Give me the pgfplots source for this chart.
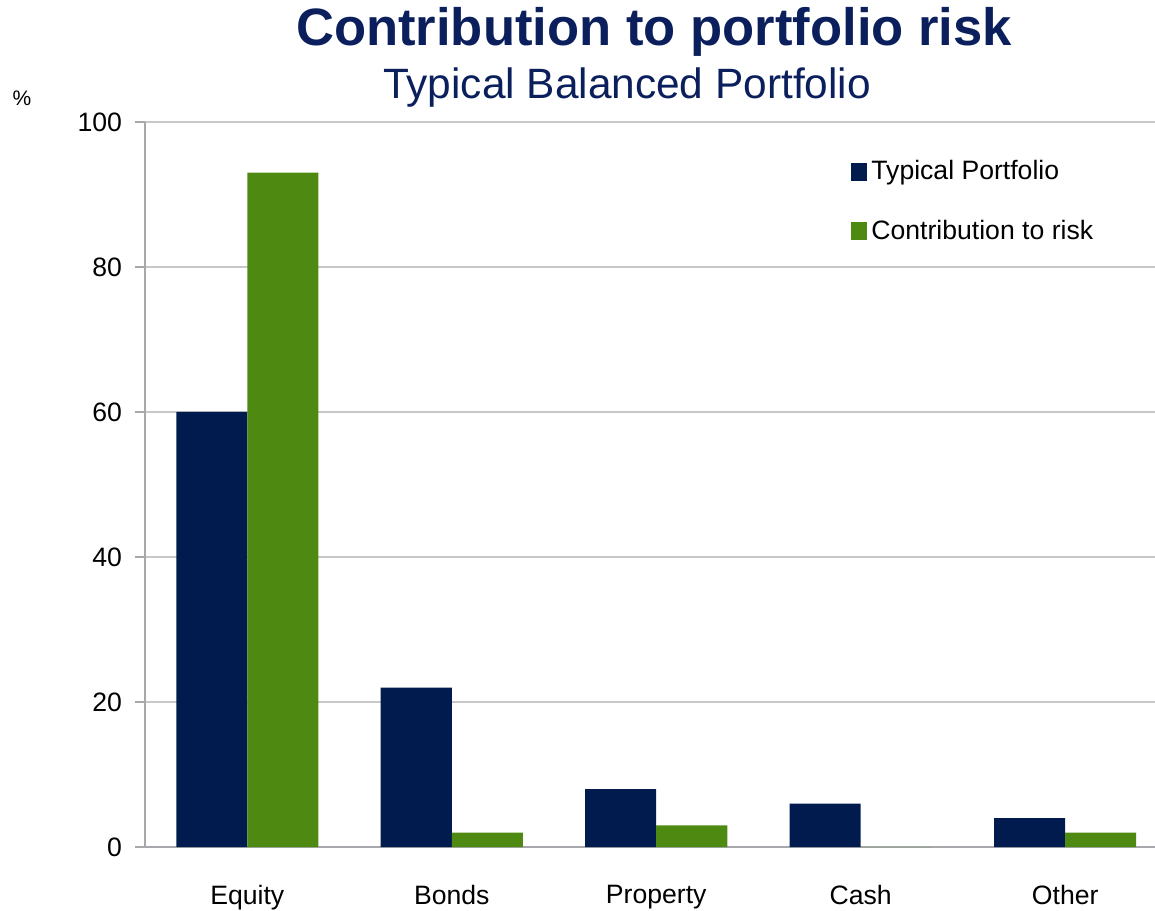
\documentclass[border=0pt]{standalone}
\usepackage{pgfplots}
\pgfplotsset{compat=1.18}
\usepackage{fontspec}
\setmainfont{Liberation Sans}
\definecolor{navy}{HTML}{021B4F}
\definecolor{grn}{HTML}{4E8A11}
\definecolor{ttl}{HTML}{0A1F5C}
\definecolor{axgray}{HTML}{A6A8AB}
\definecolor{gridgray}{HTML}{C8C8C8}
\begin{document}
\begin{tikzpicture}[x=0.5pt,y=0.5pt]
\useasboundingbox (0,0) rectangle (1155,910);
\begin{axis}[
  at={(72.5pt,31.5pt)}, anchor=south west,
  scale only axis, width=505pt, height=362.5pt,
  ybar=0pt, bar width=35.5pt,
  xmin=-0.5, xmax=4.439,
  ymin=0, ymax=100,
  ytick={0,20,...,100},
  xtick={0,1,2,3,4},
  xticklabels={Equity,Bonds,Property,Cash,Other},
  extra x ticks={0.5,1.5,2.5,3.5},
  extra x tick labels={},
  extra x tick style={major tick length=5pt, tick style={axgray, line width=0.8pt}, tick align=outside},
  major x tick style={draw=none},
  axis x line*=bottom, axis y line*=left,
  axis line style={-, axgray, line width=1pt},
  ytick style={axgray, line width=0.8pt},
  tick align=outside, major tick length=5pt,
  ymajorgrids, grid style={gridgray, line width=0.8pt},
  tick label style={font=\fontsize{13.3}{15}\selectfont, text=black},
  xticklabel style={yshift=-10.5pt},
  yticklabel style={xshift=-3pt},
  /pgf/number format/assume math mode=true,
  legend style={draw=none, fill=none, at={(0.699,0.953)}, anchor=north west,
    font=\fontsize{13.3}{15}\selectfont, row sep=14.5pt, inner sep=0pt,
    /tikz/every even column/.append style={column sep=0pt}},
  legend cell align=left,
  legend image code/.code={\fill[#1] (0pt,-4.5pt) rectangle (8pt,4.5pt);},
]
\addplot[fill=navy, draw=none] coordinates {(0,60) (1,22) (2,8) (3,6) (4,4)};
\addplot[fill=grn, draw=none] coordinates {(0,93) (1,2) (2,3) (3,0) (4,2)};
\legend{Typical Portfolio, Contribution to risk}
\end{axis}
\node[text=ttl, font=\bfseries\fontsize{26.3}{29}\selectfont] at (654,878) {Contribution to portfolio risk};
\node[text=ttl, font=\fontsize{21.2}{24}\selectfont] at (627,822) {Typical Balanced Portfolio};
\node[font=\fontsize{10.5}{12}\selectfont] at (22,812) {\%};
\end{tikzpicture}
\end{document}
